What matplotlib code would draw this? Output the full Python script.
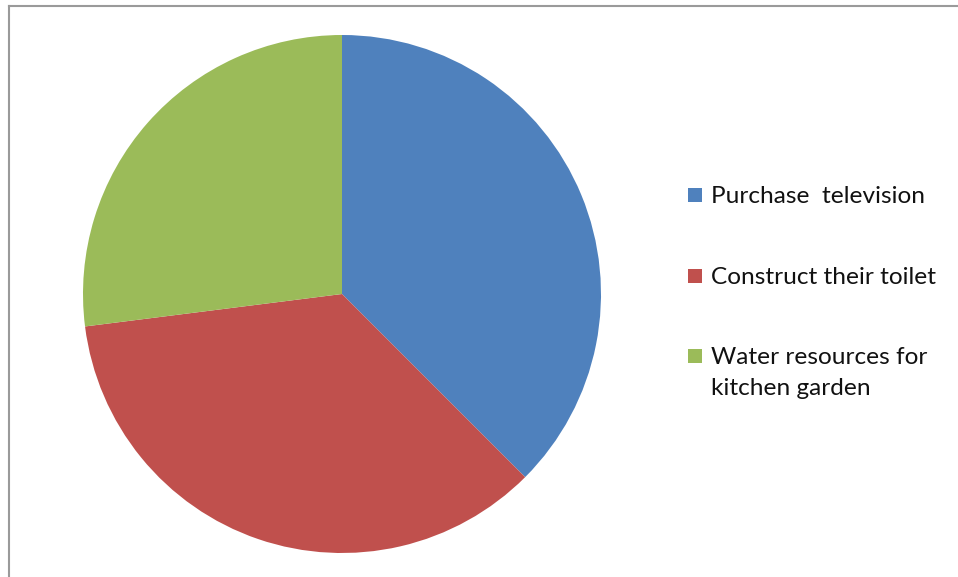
import matplotlib.pyplot as plt
from matplotlib.lines import Line2D
from matplotlib.patches import Rectangle

# share of households by use of the scheme money
labels = ['Purchase  television', 'Construct their toilet', 'Water resources for\nkitchen garden']
shares = [37.5, 35.5, 27.0]
colors = ['#4F81BD', '#C0504D', '#9BBB59']

W, H = 958, 577
fig = plt.figure(figsize=(W / 100, H / 100), dpi=100)
plt.rcParams['font.family'] = ['Lato', 'DejaVu Sans']

# pie sits in a square axes: centre (342, 294), radius 259 px
cx, cy, r = 342, 294, 259
ax = fig.add_axes([(cx - r) / W, (H - cy - r) / H, 2 * r / W, 2 * r / H])
ax.pie(shares, colors=colors, startangle=90, counterclock=False, radius=1,
       wedgeprops={'linewidth': 0})
ax.set_xlim(-1, 1)
ax.set_ylim(-1, 1)
ax.set_aspect('equal')
ax.axis('off')

# chart frame (only top and left edges show)
fig.add_artist(Line2D([8.5 / W, 8.5 / W], [0, 1 - 5.5 / H], color='#9A9A9A', lw=1.5))
fig.add_artist(Line2D([8.5 / W, 1], [1 - 5.5 / H, 1 - 5.5 / H], color='#9A9A9A', lw=1.5))

# legend drawn by hand
rows = [195, 276, 356]
for lab, col, y in zip(labels, colors, rows):
    fig.add_artist(Rectangle((688 / W, 1 - (y + 7) / H), 14 / W, 14 / H,
                             transform=fig.transFigure, color=col, lw=0))
    fig.text(711 / W, 1 - (y - 9) / H, lab, fontsize=17.6, va='top', ha='left',
             color='#111111', linespacing=1.6)

fig.savefig('out.png', dpi=100)
